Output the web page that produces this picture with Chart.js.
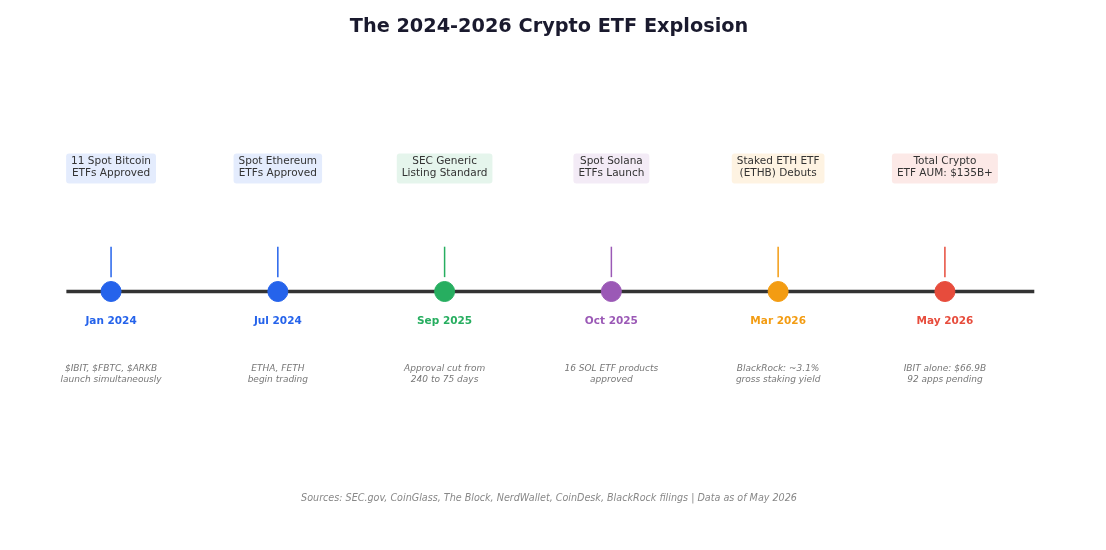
<!DOCTYPE html>
<html><head><meta charset="utf-8">
<script src="https://cdn.jsdelivr.net/npm/chart.js@4/dist/chart.umd.min.js"></script>
<style>html,body{margin:0;background:#fff}#w{width:1106px;height:550px}</style>
</head><body><div id="w"><canvas id="c"></canvas></div>
<script>
const dates = ["Jan 2024","Jul 2024","Sep 2025","Oct 2025","Mar 2026","May 2026"];
const headlines = [["11 Spot Bitcoin","ETFs Approved"],["Spot Ethereum","ETFs Approved"],["SEC Generic","Listing Standard"],["Spot Solana","ETFs Launch"],["Staked ETH ETF","(ETHB) Debuts"],["Total Crypto","ETF AUM: $135B+"]];
const details = [["$IBIT, $FBTC, $ARKB","launch simultaneously"],["ETHA, FETH","begin trading"],["Approval cut from","240 to 75 days"],["16 SOL ETF products","approved"],["BlackRock: ~3.1%","gross staking yield"],["IBIT alone: $66.9B","92 apps pending"]];
const colors = ["#2563eb","#2563eb","#27ae60","#9b59b6","#f39c12","#e74c3c"];
const positions = [0,1,2,3,4,5];

const F = "'DejaVu Sans', sans-serif";
const datasets = [{type:'line',data:[{x:-0.268,y:0},{x:5.536,y:0}],borderColor:'#333',borderWidth:3.5,pointRadius:0,order:3}];
positions.forEach((p,i)=>{
  datasets.push({type:'line',data:[{x:p,y:0.058},{x:p,y:0.181}],borderColor:colors[i],borderWidth:1.5,pointRadius:0,order:2});
});
datasets.push({type:'scatter',data:positions.map(p=>({x:p,y:0})),pointRadius:10,pointHoverRadius:10,backgroundColor:colors,borderColor:colors,order:1});

function rgba(h,a){const n=parseInt(h.slice(1),16);return `rgba(${n>>16},${(n>>8)&255},${n&255},${a})`;}
const textPlugin={id:'txt',afterDatasetsDraw(ch){
  const c=ch.ctx,xs=ch.scales.x,ys=ch.scales.y;const y0=ys.getPixelForValue(0);
  c.save();c.textAlign='center';c.textBaseline='middle';
  c.font=`bold 19.3px ${F}`;c.fillStyle='#1a1a2e';c.fillText('The 2024-2026 Crypto ETF Explosion',549,27);
  positions.forEach((p,i)=>{
    const x=xs.getPixelForValue(p);
    c.font=`10.5px ${F}`;
    const w=Math.max(...headlines[i].map(t=>c.measureText(t).width))+10;
    c.fillStyle=rgba(colors[i],0.12);
    c.beginPath();c.roundRect(x-w/2,y0-138,w,30,3);c.fill();
    c.fillStyle='#333';
    c.fillText(headlines[i][0],x,y0-130);c.fillText(headlines[i][1],x,y0-118);
    c.font=`bold 10.5px ${F}`;c.fillStyle=colors[i];c.fillText(dates[i],x,y0+30);
    c.font=`italic 9px ${F}`;c.fillStyle='#777';
    c.fillText(details[i][0],x,y0+77);c.fillText(details[i][1],x,y0+88);
  });
  c.font=`italic 9.6px ${F}`;c.fillStyle='#888';
  c.fillText('Sources: SEC.gov, CoinGlass, The Block, NerdWallet, CoinDesk, BlackRock filings | Data as of May 2026',549,498);
  c.restore();
}};
new Chart(document.getElementById('c'),{data:{datasets},plugins:[textPlugin],options:{
  responsive:true,maintainAspectRatio:false,animation:false,
  layout:{padding:{left:2,right:8,top:44,bottom:0}},
  plugins:{legend:{display:false},tooltip:{enabled:false},title:{display:false}},
  scales:{x:{type:'linear',min:-0.6,max:5.9,display:false},y:{min:-1,max:1,display:false}}
}});
</script></body></html>
